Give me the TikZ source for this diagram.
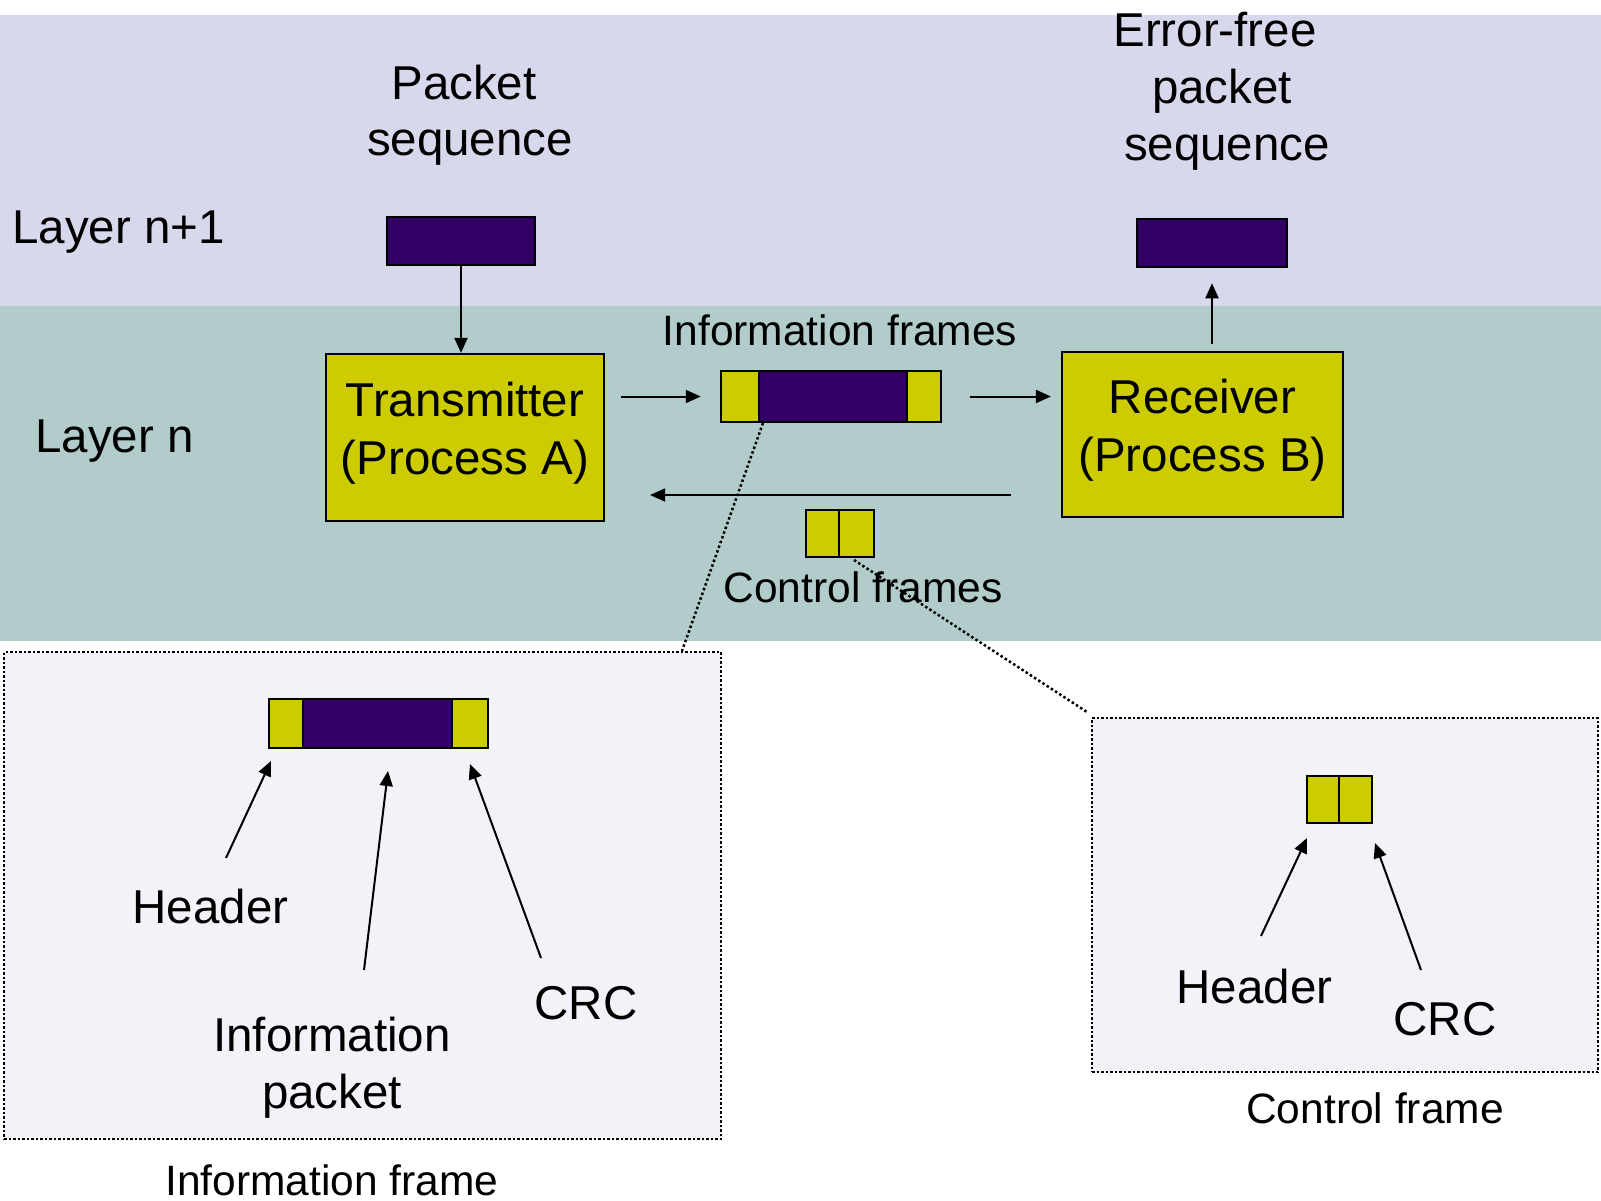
\documentclass[tikz,border=0pt]{standalone}
\usepackage{fontspec}
\setmainfont{Liberation Sans}
\usetikzlibrary{arrows.meta}

\definecolor{layerup}{RGB}{216,216,236}
\definecolor{layerdown}{RGB}{178,204,204}
\definecolor{hdrcol}{RGB}{204,204,0}
\definecolor{pktcol}{RGB}{51,0,102}
\definecolor{zoomfill}{RGB}{242,242,248}

\tikzset{
  big/.style={font=\fontsize{47.5}{56}\selectfont},
  small/.style={font=\fontsize{42.5}{50}\selectfont},
  lbl/.style={inner sep=0pt, anchor=base},
  procbox/.style={draw=black, line width=2.2pt, fill=hdrcol, inner sep=0pt},
  proctext/.style={font=\fontsize{47.5}{58}\selectfont, align=center, inner sep=0pt},
  pktbox/.style={draw=black, line width=2.5pt, fill=pktcol, inner sep=0pt},
  field/.style={draw=black, line width=2.5pt},
  arr/.style={line width=2pt, -{Triangle[length=15pt,width=13pt]}},
  tapline/.style={line width=2.5pt, dash pattern=on 2.5pt off 2.5pt},
  zoombox/.style={draw=black, line width=2.5pt, dash pattern=on 2.5pt off 2pt, fill=zoomfill}
}

\begin{document}
\begin{tikzpicture}[x=1pt,y=-1pt]
\useasboundingbox (0,0) rectangle (1601,1200);

% layer bands
\fill[white] (0,0) rectangle (1601,1200);
\fill[layerup] (0,15) rectangle (1601,306);
\fill[layerdown] (0,306) rectangle (1601,641);

\node[lbl, big, anchor=base west] (lup) at (12,243) {Layer n+1};
\node[lbl, big, anchor=base west] (ldown) at (35,452) {Layer n};

% layer n+1 packets
\node[lbl, big] (ps1) at (464,99) {Packet};
\node[lbl, big] (ps2) at (470,155) {sequence};
\node[pktbox, minimum width=148pt, minimum height=48pt] (pktA) at (461,241) {};

\node[lbl, big] (ef1) at (1215,46) {Error-free};
\node[lbl, big] (ef2) at (1222,103) {packet};
\node[lbl, big] (ef3) at (1227,160) {sequence};
\node[pktbox, minimum width=150pt, minimum height=48pt] (pktB) at (1212,243) {};

% processes
\node[procbox, minimum width=278pt, minimum height=167pt] (tx) at (465,437.5) {};
\node[proctext] (txt) at ([yshift=4pt]tx.center) {Transmitter\\(Process A)};
\node[procbox, minimum width=281pt, minimum height=165pt] (rx) at (1202.5,434.5) {};
\node[proctext] (rxt) at ([yshift=4pt]rx.center) {Receiver\\(Process B)};

% information frame in transit
\node[lbl, small] (iflbl) at (840,345) {Information frames};
\node[field, fill=hdrcol, minimum width=220pt, minimum height=51pt, inner sep=0pt] (ifr) at (831,396.5) {};
\filldraw[field, fill=pktcol] (759,371) rectangle (907,422);

% control frame in transit
\node[field, fill=hdrcol, minimum width=68pt, minimum height=47pt, inner sep=0pt] (cfr) at (840,533.5) {};
\draw[field] (839,510) -- (839,557);
\node[lbl, small] (cflbl) at (863,602) {Control frames};

% flows
\draw[arr] (pktA.south) -- (pktA.south |- tx.north);
\draw[arr, shorten <=16pt, shorten >=19pt] (tx.east |- ifr.west) -- (ifr.west);
\draw[arr, shorten <=28pt, shorten >=10pt] (ifr.east) -- (ifr.east -| rx.west);
\draw[arr, shorten <=7pt, shorten >=15pt] (rx.north -| pktB.south) -- (pktB.south);
\draw[arr, shorten <=50pt, shorten >=45pt] ([yshift=-60.5pt]rx.west) -- ([yshift=-60.5pt]rx.west -| tx.east);

% detail: information frame
\node[zoombox, minimum width=717pt, minimum height=487pt, inner sep=0pt] (ibox) at (362.5,895.5) {};
\node[field, fill=hdrcol, minimum width=219pt, minimum height=49pt, inner sep=0pt] (ifd) at (378.5,723.5) {};
\filldraw[field, fill=pktcol] (303,699) rectangle (452,748);

\coordinate (tapA) at (763,423);
\coordinate (tapAend) at (682,651);
\draw[tapline] (tapA) -- (tapAend);

\node[lbl, big] (ihdr) at (210.5,923) {Header};
\node[lbl, big] (ipk1) at (332,1051) {Information};
\node[lbl, big] (ipk2) at (332,1108) {packet};
\node[lbl, big] (icrc) at (586,1019) {CRC};
\node[lbl, small] (ibcap) at (332,1195) {Information frame};

\coordinate (ih0) at (226,858);  \coordinate (ih1) at (271,761);
\coordinate (ip0) at (364,970);  \coordinate (ip1) at (388,771);
\coordinate (ic0) at (541,958);  \coordinate (ic1) at (470,764);
\draw[arr] (ih0) -- (ih1);
\draw[arr] (ip0) -- (ip1);
\draw[arr] (ic0) -- (ic1);

% detail: control frame
\node[zoombox, minimum width=506pt, minimum height=354pt, inner sep=0pt] (cbox) at (1345,895) {};
\node[field, fill=hdrcol, minimum width=65pt, minimum height=47pt, inner sep=0pt] (cfd) at (1339.5,799.5) {};
\draw[field] (1339,776) -- (1339,823);

\coordinate (tapB) at (854,560);
\coordinate (tapBend) at (1087,712);
\draw[tapline] (tapB) -- (tapBend);

\node[lbl, big] (chdr) at (1254.5,1003) {Header};
\node[lbl, big] (ccrc) at (1445,1035) {CRC};
\node[lbl, small] (cbcap) at (1375,1123) {Control frame};

\coordinate (ch0) at (1261,936);  \coordinate (ch1) at (1307,838);
\coordinate (cc0) at (1421,970);  \coordinate (cc1) at (1375,843);
\draw[arr] (ch0) -- (ch1);
\draw[arr] (cc0) -- (cc1);
\end{tikzpicture}
\end{document}
